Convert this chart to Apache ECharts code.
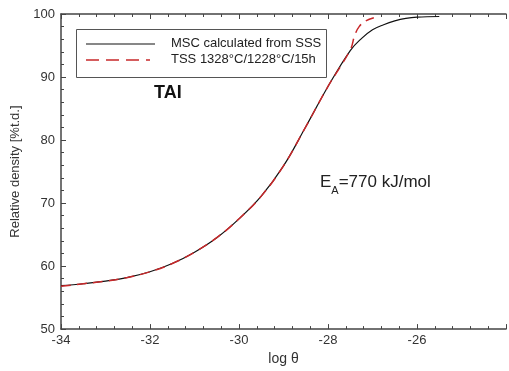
<!DOCTYPE html>
<html><head><meta charset="utf-8">
<script src="https://cdn.jsdelivr.net/npm/echarts@6/dist/echarts.min.js"></script>
<style>html,body{margin:0;padding:0;background:#fff}#c{width:509px;height:371px}</style>
</head><body><div id="c"></div>
<script>
var mscX = [-34, -33.5, -33, -32.5, -32, -31.5, -31, -30.5, -30, -29.5, -29, -28.5, -28, -27.5, -27.25, -27, -26.75, -26.5, -26.25, -26, -25.5];
var mscY = [56.9, 57.2, 57.6, 58.2, 59.1, 60.4, 62.2, 64.5, 67.5, 71.1, 75.9, 82.1, 88.5, 94.2, 96.1, 97.5, 98.3, 98.9, 99.3, 99.5, 99.6];
var tssX = [-34, -33.5, -33, -32.5, -32, -31.5, -31, -30.5, -30, -29.5, -29, -28.5, -28, -27.5, -27.4, -27.3, -27.15, -26.97];
var tssY = [56.8, 57.2, 57.6, 58.2, 59.1, 60.4, 62.2, 64.5, 67.5, 71.1, 75.9, 82.1, 88.5, 94.3, 96.6, 98.0, 98.9, 99.4];
var xTicks = [-34, -32, -30, -28, -26];
var yTicks = [50, 60, 70, 80, 90, 100];
var seriesNames = ['MSC calculated from SSS', 'TSS 1328°C/1228°C/15h'];

function zip(a, b) { return a.map(function (v, i) { return [v, b[i]]; }); }

var chart = echarts.init(document.getElementById('c'), null, {renderer: 'canvas'});
var axisCol = '#444';
var FF = 'Liberation Sans, Arial, sans-serif';
var blackCol = '#111', redCol = '#c8282a';
function xAxisCfg(pos, showLabel) {
  return {
    type: 'value', position: pos, min: -34, max: -24, interval: 2,
    axisLine: {show: true, onZero: false, lineStyle: {color: axisCol, width: 1.5}},
    axisTick: {show: true, inside: true, length: 5, lineStyle: {color: axisCol, width: 1}},
    minorTick: {show: true, splitNumber: 5, length: 3, lineStyle: {color: axisCol, width: 1}},
    splitLine: {show: false},
    axisLabel: {show: showLabel, margin: 5, color: '#333', fontSize: 13, fontFamily: FF,
      formatter: function (v) { return xTicks.indexOf(v) >= 0 ? String(v) : ''; }},
    name: showLabel ? 'log θ' : '', nameLocation: 'middle', nameGap: 22,
    nameTextStyle: {color: '#333', fontSize: 14, fontFamily: FF}
  };
}
var option = {
  animation: false,
  grid: {left: 61, top: 14, right: -58, bottom: 39, containLabel: false},
  xAxis: [xAxisCfg('bottom', true), xAxisCfg('top', false)],
  yAxis: {
    type: 'value', min: 50, max: 100, interval: 10,
    axisLine: {show: true, lineStyle: {color: axisCol, width: 1.5}},
    axisTick: {show: true, inside: true, length: 5, lineStyle: {color: axisCol, width: 1}},
    minorTick: {show: true, splitNumber: 5, length: 3, lineStyle: {color: axisCol, width: 1}},
    splitLine: {show: false},
    axisLabel: {margin: 6, color: '#333', fontSize: 13, fontFamily: FF,
      formatter: function (v) { return yTicks.indexOf(v) >= 0 ? String(v) : ''; }},
    name: 'Relative density [%t.d.]', nameLocation: 'middle', nameGap: 33, nameRotate: 90,
    nameTextStyle: {color: '#333', fontSize: 13, fontFamily: FF}
  },
  graphic: [
    {type: 'rect', left: 76, top: 29, shape: {width: 250, height: 48}, style: {fill: '#fff', stroke: '#555', lineWidth: 1}},
    {type: 'line', shape: {x1: 86, y1: 44, x2: 155, y2: 44}, style: {stroke: blackCol, lineWidth: 1.2}},
    {type: 'line', shape: {x1: 86, y1: 60, x2: 150, y2: 60}, style: {stroke: redCol, lineWidth: 1.5, lineDash: [13, 7]}},
    {type: 'text', left: 171, top: 37, style: {text: seriesNames[0], fill: '#222', font: '13px ' + FF}},
    {type: 'text', left: 171, top: 53, style: {text: seriesNames[1], fill: '#222', font: '13px ' + FF}},
    {type: 'text', left: 154, top: 84, style: {text: 'TAI', fill: '#111', font: 'bold 18px ' + FF}},
    {type: 'text', left: 320, top: 174, style: {
      text: '{m|E}{s|A}{m|=770 kJ/mol}', fill: '#222',
      rich: {m: {fontSize: 17, fontFamily: FF, fill: '#222', verticalAlign: 'bottom'},
             s: {fontSize: 11, fontFamily: FF, fill: '#222', verticalAlign: 'bottom', padding: [0, 0, -5, 0]}}
    }}
  ],
  series: [
    {name: seriesNames[0], type: 'line', xAxisIndex: 0, data: zip(mscX, mscY), smooth: 0.4,
     symbol: 'none', lineStyle: {color: blackCol, width: 1.2}, itemStyle: {color: blackCol}, z: 2},
    {name: seriesNames[1], type: 'line', xAxisIndex: 0, data: zip(tssX, tssY), smooth: 0.4,
     symbol: 'none', lineStyle: {color: redCol, width: 1.5, type: [10, 6]}, itemStyle: {color: redCol}, z: 3}
  ]
};
chart.setOption(option);
</script></body></html>
